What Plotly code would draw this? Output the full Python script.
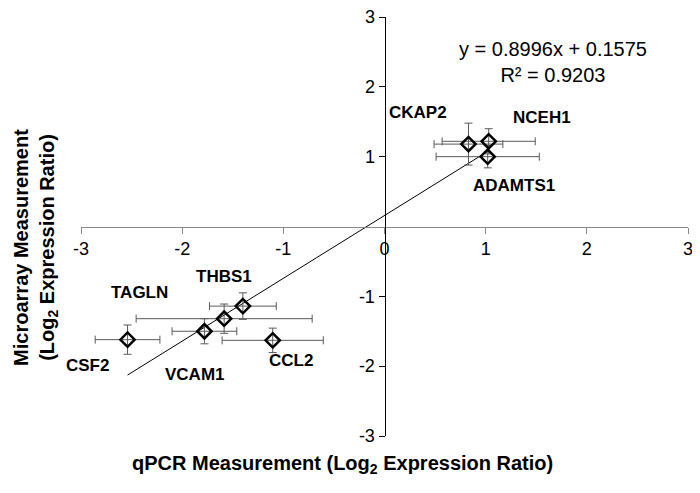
import numpy as np
import plotly.graph_objects as go

# Data
genes = ["CKAP2", "NCEH1", "ADAMTS1", "THBS1", "TAGLN", "VCAM1", "CSF2", "CCL2"]
qpcr = [0.83, 1.03, 1.02, -1.40, -1.585, -1.78, -2.54, -1.105]
microarray = [1.18, 1.22, 1.00, -1.14, -1.32, -1.50, -1.62, -1.63]
qpcr_err = [0.34, 0.46, 0.51, 0.33, 0.87, 0.32, 0.32, 0.50]
microarray_err = [0.30, 0.18, 0.16, 0.19, 0.21, 0.18, 0.21, 0.175]

trend_slope = 0.8996
trend_intercept = 0.1575
r_squared = 0.9203

x_ticks = [-3, -2, -1, 0, 1, 2, 3]
x_tick_text = ["-3", "-2", "-1", "0", "1", "2", "3"]
y_ticks = [-3, -2, -1, 1, 2, 3]
y_tick_text = ["-3", "-2", "-1", "1", "2", "3"]

# label offsets in pixels (x right, y up)
label_shift = {
    "CKAP2": (-50, 32),
    "NCEH1": (53, 24),
    "ADAMTS1": (26, -29),
    "THBS1": (-19, 30),
    "TAGLN": (-85, 26),
    "VCAM1": (-9, -43),
    "CSF2": (-40, -26),
    "CCL2": (18, -20),
}

FONT = "Liberation Sans, Arial, sans-serif"

fig = go.Figure()

# Linear trendline over the data range
x_line = np.array([min(qpcr), max(qpcr)])
y_line = trend_slope * x_line + trend_intercept
fig.add_trace(go.Scatter(
    x=x_line, y=y_line, mode="lines",
    line=dict(color="black", width=1),
    hoverinfo="skip", showlegend=False,
))

# Points with error bars
fig.add_trace(go.Scatter(
    x=qpcr, y=microarray, mode="markers",
    marker=dict(symbol="diamond-open", size=11, color="black",
                line=dict(color="black", width=2.5)),
    error_x=dict(type="data", array=qpcr_err, color="#5a5a5a",
                 thickness=1, width=4),
    error_y=dict(type="data", array=microarray_err, color="#5a5a5a",
                 thickness=1, width=4),
    text=genes, hovertemplate="%{text}<br>%{x}, %{y}<extra></extra>",
    showlegend=False,
))

annotations = []
for g, xv, yv in zip(genes, qpcr, microarray):
    dx, dy = label_shift[g]
    annotations.append(dict(
        x=xv, y=yv, xref="x", yref="y", text=f"<b>{g}</b>",
        showarrow=False, xshift=dx, yshift=dy,
        font=dict(family=FONT, size=17, color="black"),
    ))

# trendline equation
annotations.append(dict(
    x=1.67, y=2.35, xref="x", yref="y",
    text=f"y = {trend_slope}x + {trend_intercept}<br>R² = {r_squared}",
    showarrow=False, align="center",
    font=dict(family=FONT, size=20, color="black"),
))

# axis titles
annotations.append(dict(
    x=0.43, y=-0.068, xref="paper", yref="paper",
    xanchor="center", yanchor="middle",
    text="<b>qPCR Measurement (Log<sub>2</sub> Expression Ratio)</b>",
    showarrow=False, font=dict(family=FONT, size=20, color="black"),
))
annotations.append(dict(
    x=-0.076, y=0.451, xref="paper", yref="paper",
    xanchor="center", yanchor="middle",
    text="<b>Microarray Measurement<br>(Log<sub>2</sub> Expression Ratio)</b>",
    showarrow=False, textangle=-90,
    font=dict(family=FONT, size=20, color="black"),
))

# page body adds an 8px offset, so the figure is drawn 8px smaller
fig.update_layout(
    width=692, height=485,
    margin=dict(l=73, r=12, t=9, b=57, autoexpand=False),
    paper_bgcolor="white", plot_bgcolor="white",
    font=dict(family=FONT, size=18, color="black"),
    xaxis=dict(
        range=[-3, 3], anchor="free", position=0.5, automargin=False,
        showline=True, linecolor="#888888", linewidth=1,
        ticks="outside", ticklen=6, tickcolor="#888888",
        tickvals=x_ticks, ticktext=x_tick_text, ticklabeloverflow="allow",
        showgrid=False, zeroline=False, tickfont=dict(size=18),
    ),
    yaxis=dict(
        range=[-3, 3], anchor="free", position=0.5, automargin=False,
        showline=True, linecolor="black", linewidth=1,
        ticks="outside", ticklen=6, tickcolor="black",
        tickvals=y_ticks, ticktext=y_tick_text, ticklabeloverflow="allow",
        showgrid=False, zeroline=False, tickfont=dict(size=18),
    ),
    annotations=annotations,
)

fig.write_html("out.html")
